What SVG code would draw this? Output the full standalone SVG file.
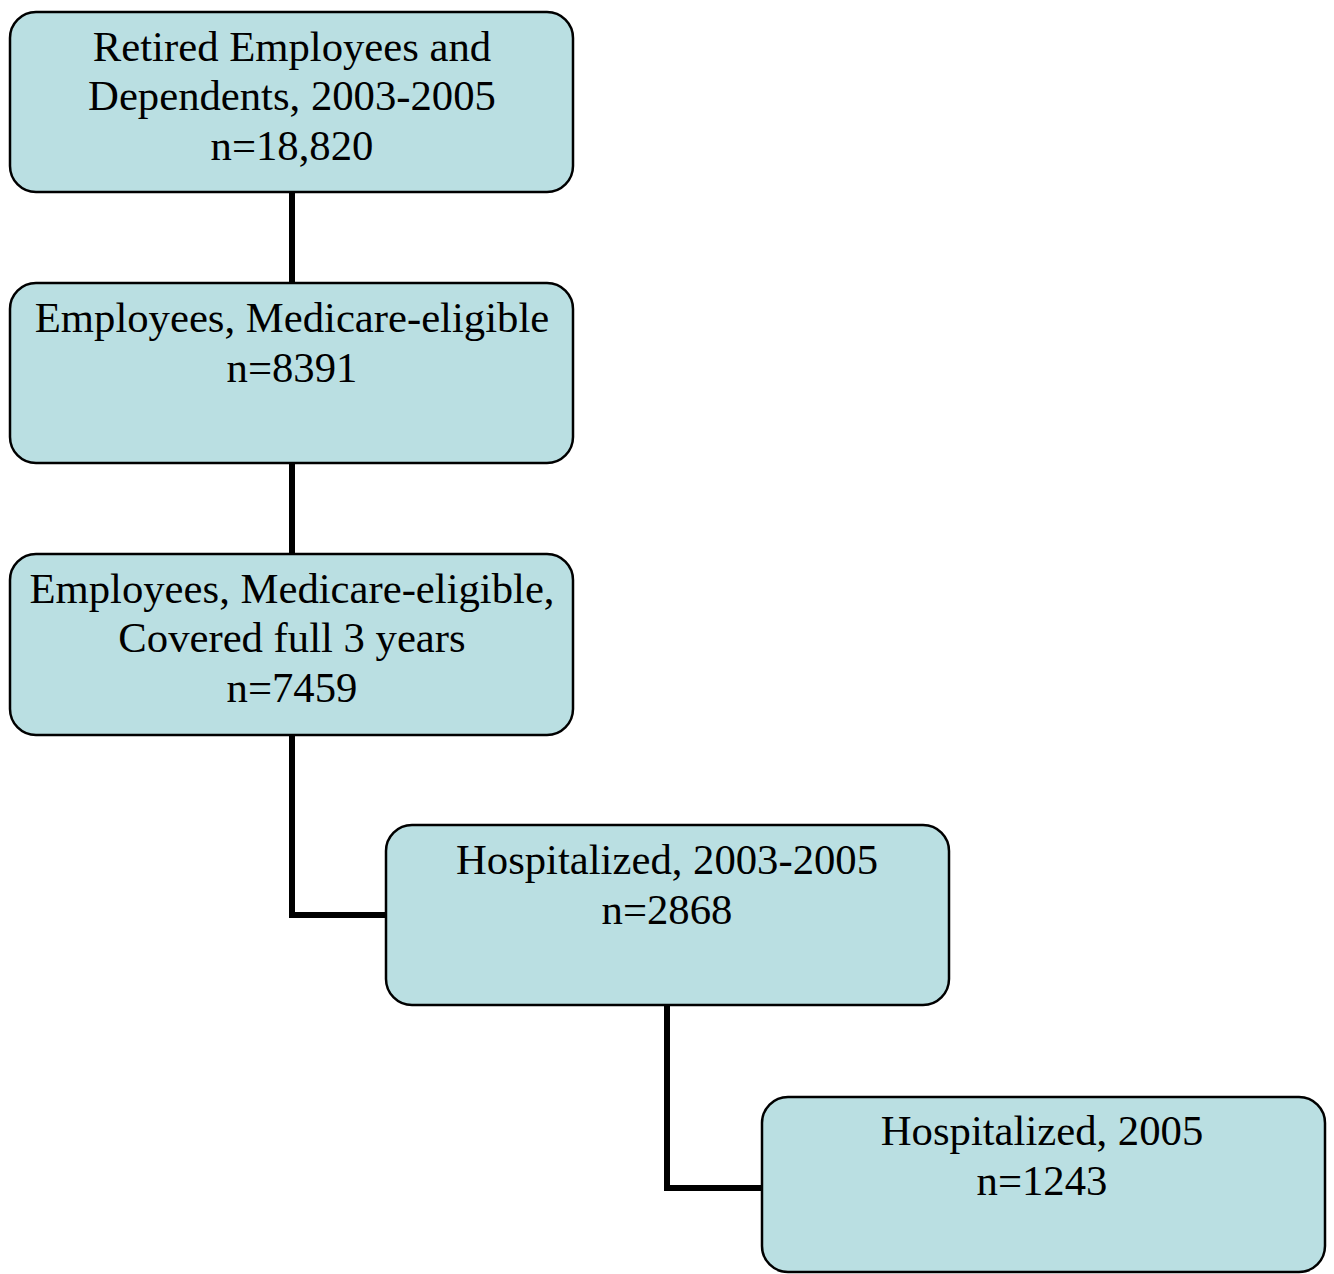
<svg xmlns="http://www.w3.org/2000/svg" width="1334" height="1274" viewBox="0 0 1334 1274">
<style>
.box{fill:#badfe2;stroke:#000;stroke-width:2.5}
.t{font-family:"Liberation Serif","Times New Roman",serif;font-size:42.7px;fill:#000;text-anchor:middle}
.c{fill:none;stroke:#000;stroke-width:6}
</style>
<rect width="1334" height="1274" fill="#fff"/>
<g id="connectors">
<line class="c" x1="292" y1="192" x2="292" y2="283"/>
<line class="c" x1="292" y1="463" x2="292" y2="554"/>
<polyline class="c" points="292,735 292,915 386,915"/>
<polyline class="c" points="667,1005 667,1188 762,1188"/>
</g>
<g id="n1">
<rect class="box" x="10" y="12" width="563" height="180" rx="26"/>
<text class="t" x="292" y="61">Retired Employees and</text>
<text class="t" x="292" y="110">Dependents, 2003-2005</text>
<text class="t" x="292" y="160">n=18,820</text>
</g>
<g id="n2">
<rect class="box" x="10" y="283" width="563" height="180" rx="26"/>
<text class="t" x="292" y="332">Employees, Medicare-eligible</text>
<text class="t" x="292" y="382">n=8391</text>
</g>
<g id="n3">
<rect class="box" x="10" y="554" width="563" height="181" rx="26"/>
<text class="t" x="292" y="603">Employees, Medicare-eligible,</text>
<text class="t" x="292" y="652">Covered full 3 years</text>
<text class="t" x="292" y="702">n=7459</text>
</g>
<g id="n4">
<rect class="box" x="386" y="825" width="563" height="180" rx="26"/>
<text class="t" x="667" y="874">Hospitalized, 2003-2005</text>
<text class="t" x="667" y="924">n=2868</text>
</g>
<g id="n5">
<rect class="box" x="762" y="1097" width="563" height="175" rx="26"/>
<text class="t" x="1042" y="1145">Hospitalized, 2005</text>
<text class="t" x="1042" y="1195">n=1243</text>
</g>
</svg>
